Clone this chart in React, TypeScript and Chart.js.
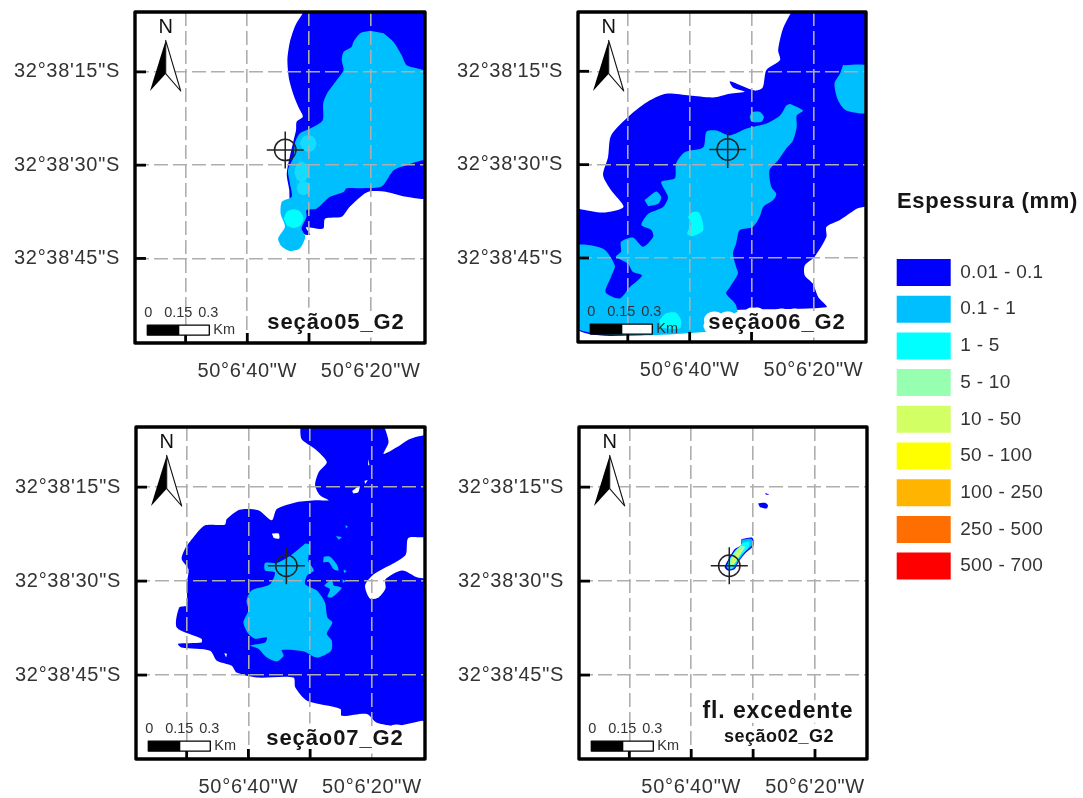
import React, { useEffect, useRef } from "react";
import { Chart, registerables } from "chart.js";

Chart.register(...registerables);

type Pt = [number, number];

// All coordinates: x = seconds of longitude (50°6'xx"W), y = seconds of latitude (32°38'yy"S)
const lonTicks = [50, 40, 30, 20];
const lonLabelled = [40, 20];
const latTicks = [15, 30, 45];
const wellSite: Pt[] = [[33.85, 27.55]];

const classLabels = ["0.01 - 0.1", "0.1 - 1", "1 - 5", "5 - 10", "10 - 50", "50 - 100", "100 - 250", "250 - 500", "500 - 700"];
const classColors = ["#0000ff", "#00bfff", "#00ffff", "#96ffb0", "#d2ff64", "#ffff00", "#ffb400", "#ff6e00", "#ff0000"];
const legendTitle = "Espessura (mm)";

// --- seção05_G2
const s05Blue: Pt[] = [[30.9,5.4],[32.2,7.5],[33.1,10.2],[33.5,13.1],[33.2,16.3],[32.4,19.0],[31.6,20.9],[31.0,22.2],[32.0,23.0],[32.1,24.4],[32.5,26.0],[33.6,31.3],[33.2,34.0],[33.1,35.6],[30.9,41.0],[29.8,41.2],[30.5,40.0],[27.7,40.2],[27.4,38.6],[24.7,38.3],[23.4,36.7],[21.2,34.7],[20.1,34.2],[17.4,34.3],[14.2,35.1],[11.0,35.1],[11.0,5.0],[30.9,5.0]];
const s05Light: Pt[] = [[20.1,8.4],[21.7,8.8],[22.8,10.2],[23.1,11.0],[24.4,11.8],[24.7,13.1],[24.4,14.7],[25.5,16.3],[27.1,18.5],[27.7,20.1],[27.8,22.8],[29.8,24.1],[31.5,24.9],[32.3,26.5],[32.5,28.7],[33.4,30.8],[33.1,32.9],[32.8,35.1],[34.4,35.9],[34.6,37.8],[33.9,39.9],[35.0,41.8],[34.4,43.1],[33.1,43.8],[31.5,43.4],[30.6,41.5],[31.2,40.2],[30.4,38.3],[30.4,37.2],[28.8,37.0],[26.6,35.1],[24.4,34.3],[23.9,33.7],[21.2,33.7],[18.2,33.4],[16.3,30.8],[14.2,30.0],[11.7,29.2],[11.0,29.2],[11.0,15.0],[12.3,14.5],[14.2,13.9],[15.0,12.3],[16.3,10.2],[17.9,8.8]];
const s05SpotA: Pt[] = [[31.5,26.5],[31.0,25.5],[30.1,25.2],[29.2,25.5],[28.8,26.5],[29.2,27.5],[30.1,27.9],[31.0,27.5]];
const s05SpotB: Pt[] = [[32.4,31.1],[32.0,29.9],[31.2,29.4],[30.4,29.9],[30.0,31.1],[30.4,32.3],[31.2,32.8],[32.0,32.3]];
const s05SpotC: Pt[] = [[32.0,33.7],[31.7,32.9],[30.9,32.6],[30.1,32.9],[29.8,33.7],[30.1,34.5],[30.9,34.8],[31.7,34.5]];
const s05SpotD: Pt[] = [[34.1,38.6],[33.6,37.5],[32.5,37.1],[31.4,37.5],[30.9,38.6],[31.4,39.7],[32.5,40.1],[33.6,39.7]];

// --- seção06_G2
const s06Blue: Pt[] = [[23.3,5.0],[24.9,8.1],[25.7,11.6],[25.4,13.2],[27.6,14.8],[28.2,17.6],[29.5,18.1],[33.5,16.6],[33.0,17.6],[31.1,18.3],[33.5,18.6],[36.2,19.2],[40,18.9],[43.8,18.6],[46.5,19.7],[49.7,22.1],[52.7,25.3],[53.2,28.8],[54.0,31.7],[52.7,34.1],[50.7,36.8],[54.0,37.7],[57.5,37.2],[58.5,37.2],[58.5,56.3],[37.3,56.3],[37.3,53.7],[17.9,52.9],[19.2,51.3],[20.1,49.1],[21.4,47.8],[21.4,46.2],[19.8,44.8],[17.9,41.6],[17.9,40.0],[15.7,38.9],[13.0,37.1],[11.0,36.3],[11.0,5.0]];
const s06Light: Pt[] = [[23.8,20.2],[21.7,21.3],[22.7,22.1],[22.7,23.9],[23.3,26.1],[24.4,27.4],[25.7,29.3],[27.1,30.9],[26.8,33.6],[26.0,34.7],[26.5,35.7],[28.1,36.8],[28.7,38.4],[29.8,40.0],[31.9,40.5],[32.5,42.7],[33.0,44.3],[32.5,46.4],[32.2,47.5],[33.5,49.7],[34.1,50.7],[32.5,52.6],[32.5,56.3],[58.5,56.3],[58.5,43.2],[54.0,43.5],[52.1,46.2],[52.7,48.0],[53.6,50.5],[51.3,51.5],[49.7,49.7],[47.7,47.8],[49.2,47.2],[50.0,45.9],[51.9,44.8],[51.1,44.0],[51.1,42.4],[49.2,41.7],[47.5,43.2],[45.9,41.6],[46.2,40.5],[47.8,39.7],[46.7,37.9],[44.3,36.8],[43.5,35.2],[44.6,32.8],[42.4,32.2],[42.2,29.8],[40.8,28.0],[37.8,27.2],[37.3,24.7],[35.7,24.5],[33.5,25.3],[30.8,24.2],[27.6,23.4],[25.4,22.1],[24.4,20.5]];
const s06LightA: Pt[] = [[30.0,21.5],[28.7,21.5],[28.0,22.3],[28.4,23.1],[30.0,23.1],[30.3,22.3]];
const s06LightB: Pt[] = [[47.3,35.7],[45.4,34.3],[44.6,35.2],[45.1,36.3],[46.7,36.7]];
const s06LightC: Pt[] = [[15.2,14.0],[11.0,14.3],[11.0,21.5],[14.7,21.3],[16.0,19.7],[16.6,17.0],[15.7,15.4]];
const s06CyanA: Pt[] = [[40.3,38.4],[39.5,37.6],[38.4,37.8],[37.8,40.5],[39.5,41.5],[40.4,41.1],[39.7,39.5]];
const s06CyanB: Pt[] = [[44.9,55.0],[43.8,53.9],[42.2,53.8],[41.4,55.0],[41.6,56.3],[44.6,56.3]];

// --- seção07_G2
const s07Blue: Pt[] = [[31.6,5.0],[31.4,7.3],[29.2,8.9],[27.3,11.0],[28.6,12.6],[29.2,14.7],[28.4,16.3],[27.0,17.1],[28.9,17.1],[32.2,17.4],[35.4,18.5],[36.2,20.3],[38.4,18.7],[41.4,18.6],[43.5,20.1],[43.8,21.0],[47.0,21.1],[48.9,23.0],[50.3,24.9],[50.8,26.5],[49.7,28.1],[50.0,30.5],[50.0,33.9],[51.2,34.2],[51.6,37.4],[47.6,39.2],[47.6,39.8],[51.4,40.0],[50.8,40.6],[46.2,41.1],[45.1,42.7],[42.7,43.5],[41.9,44.6],[38.6,45.4],[32.7,45.4],[32.4,47.0],[30.5,49.1],[25.1,50.4],[24.9,51.5],[20.8,51.2],[19.2,52.6],[15.9,53.1],[11.9,52.3],[11.0,52.3],[11.0,29.9],[12.7,29.4],[15.1,28.3],[17.8,29.7],[17.8,31.2],[18.9,32.6],[20.3,32.8],[21.1,30.7],[19.7,28.9],[14.6,25.9],[14.1,23.1],[11.0,22.7],[11.0,7.0],[13.8,7.3],[15.9,8.6],[18.1,9.7],[17.3,7.8],[18.1,5.0]];
const s07Light: Pt[] = [[30.8,24.0],[30.0,24.2],[30.3,26.7],[29.4,28.3],[30.5,29.1],[30.8,30.5],[28.9,31.5],[27.6,33.4],[27.2,35.8],[26.4,36.6],[27.3,38.4],[26.5,39.5],[26.6,41.1],[28.9,42.2],[31.1,41.2],[34.6,41.0],[34.3,41.9],[35.4,42.8],[37.0,42.2],[38.4,40.8],[39.7,40.3],[37.3,39.8],[37.0,39.0],[38.9,39.2],[40,38.4],[40.8,36.6],[40,34.7],[40.3,33.1],[39.5,31.5],[36.5,30.5],[35.7,28.6],[37.3,28.3],[37.3,27.1],[35.4,27.1],[33.2,25.9],[31.9,24.9]];
const s07IsletA: Pt[] = [[27.8,26.1],[26.8,26.1],[25.7,27.3],[25.4,28.3],[26.2,28.1],[27.0,27.0],[27.9,27.0]];
const s07IsletB: Pt[] = [[26.5,29.7],[27.7,30.7],[26.8,31.3],[27.2,32.5],[26.5,32.6],[24.9,31.1],[26.2,30.7]];
const s07IsletC: Pt[] = [[25.8,22.8],[24.9,23.0],[25.4,23.4]];
const s07IsletD: Pt[] = [[24.3,21.1],[23.9,21.3],[24.2,21.6]];
const s07IsletE: Pt[] = [[24.6,28.2],[24.1,28.4],[24.5,28.7]];
const s07IsletF: Pt[] = [[24.8,29.7],[24.3,30.0],[24.7,30.3]];
const s07HoleA: Pt[] = [[36.2,22.4],[35.1,22.4],[35.0,23.2],[35.9,23.1]];
const s07HoleB: Pt[] = [[23.2,15.6],[22.0,14.8],[22.2,15.8],[23.0,16.0]];
const s07HoleC: Pt[] = [[21.2,14.0],[20.7,13.9],[21.1,14.5]];
const s07HoleD: Pt[] = [[20.6,10.5],[20.4,11.5],[20.6,11.5]];
const s07HoleE: Pt[] = [[43.9,41.5],[43.5,41.6],[43.6,42.2]];

// --- fl. excedente / seção02_G2
const s02Blue: Pt[] = [[31.9,23.3],[30.1,23.1],[29.9,24.3],[31.1,25.4],[32.2,26.7],[33.0,28.1],[34.1,28.3],[34.6,27.8],[33.8,26.2],[33.0,24.9],[31.9,24.3]];
const s02Light: Pt[] = [[31.8,23.4],[30.2,23.3],[30.1,24.2],[31.3,25.3],[32.3,26.6],[33.1,27.9],[33.9,28.1],[34.3,27.7],[33.6,26.3],[32.8,25.0],[31.8,24.4]];
const s02Cyan: Pt[] = [[31.7,23.9],[30.6,23.7],[30.8,24.7],[31.9,25.8],[32.8,27.1],[33.4,28.0],[34.0,27.9],[34.0,26.9],[33.3,25.7],[32.5,24.8]];
const s02Green: Pt[] = [[32.0,24.4],[31.3,24.5],[32.0,25.7],[32.8,26.9],[33.4,27.7],[33.9,27.4],[33.5,26.2],[32.8,25.1]];
const s02Lime: Pt[] = [[32.3,25.0],[31.9,25.2],[32.5,26.3],[33.1,27.2],[33.6,27.2],[33.3,26.2]];
const s02SpotA: Pt[] = [[29.2,17.6],[28.1,17.5],[27.6,17.9],[27.8,18.4],[28.9,18.2]];
const s02SpotB: Pt[] = [[28.1,15.9],[27.4,16.2],[27.9,16.2]];

const [BLUE, LIGHT, CYAN, GREEN, LIME] = classColors;
const WHITE = "#ffffff";
const SOFT = "#14dcff";

type Panel = {
  left: number; top: number; right: number; bottom: number;
  lon: [number, number]; lat: [number, number];
  innerLonTicks: number;
  layers: [Pt[], string][];
  labels: { text: string; size: number; cx: number; cy: number }[];
};

const panels: Panel[] = [
  {
    left: 135, top: 11.7, right: 425, bottom: 342.7, lon: [11.2, 58.2], lat: [5.37, 58.6], innerLonTicks: 3,
    layers: [[s05Blue, BLUE], [s05Light, LIGHT], [s05SpotA, SOFT], [s05SpotB, SOFT], [s05SpotC, SOFT], [s05SpotD, CYAN]],
    labels: [{ text: "seção05_G2", size: 22, cx: 89, cy: 20 }],
  },
  {
    left: 578.3, top: 11.7, right: 866.7, bottom: 341.7, lon: [11.5, 58.05], lat: [5.47, 58.5], innerLonTicks: 3,
    layers: [[s06Blue, BLUE], [s06Light, LIGHT], [s06LightA, LIGHT], [s06LightB, LIGHT], [s06LightC, LIGHT], [s06CyanA, CYAN], [s06CyanB, CYAN]],
    labels: [{ text: "seção06_G2", size: 22, cx: 89, cy: 19 }],
  },
  {
    left: 136, top: 426.7, right: 425, bottom: 758.3, lon: [11.4, 58.2], lat: [5.4, 58.4], innerLonTicks: 3,
    layers: [[s07Blue, BLUE], [s07Light, LIGHT], [s07IsletA, LIGHT], [s07IsletB, LIGHT], [s07IsletC, LIGHT], [s07IsletD, LIGHT], [s07IsletE, LIGHT], [s07IsletF, LIGHT], [s07HoleA, WHITE], [s07HoleB, WHITE], [s07HoleC, WHITE], [s07HoleD, WHITE], [s07HoleE, WHITE]],
    labels: [{ text: "seção07_G2", size: 22, cx: 90, cy: 20 }],
  },
  {
    left: 579.3, top: 426.7, right: 867.7, bottom: 758.3, lon: [11.6, 58.13], lat: [5.4, 58.4], innerLonTicks: 4,
    layers: [[s02SpotA, BLUE], [s02SpotB, BLUE], [s02Blue, BLUE], [s02Light, LIGHT], [s02Cyan, CYAN], [s02Green, GREEN], [s02Lime, LIME]],
    labels: [
      { text: "fl. excedente", size: 23, cx: 89, cy: 47 },
      { text: "seção02_G2", size: 18, cx: 88, cy: 21.6 },
    ],
  },
];

const FONT = "'Liberation Sans', Arial, sans-serif";
const PAD_L = 135, PAD_T = 11, PAD_R = 15, PAD_B = 50;

const zeroAxisPadding = (s: any) => {
  s.paddingTop = 0; s.paddingBottom = 0; s.paddingLeft = 0; s.paddingRight = 0;
};

const mapDecorPlugin = (panel: Panel) => ({
  id: "mapDecor",
  beforeDraw(chart: any) {
    chart.ctx.letterSpacing = "0.7px";
    chart.ctx.fillStyle = "#fff";
    chart.ctx.fillRect(chart.chartArea.left, chart.chartArea.top, chart.chartArea.width, chart.chartArea.height);
  },
  afterDraw(chart: any) {
    const { ctx, chartArea: a, scales } = chart;
    ctx.save();
    ctx.letterSpacing = "0px";

    // panel captions with white halo
    ctx.textAlign = "center";
    ctx.textBaseline = "middle";
    ctx.lineJoin = "round";
    for (const l of panel.labels) {
      ctx.letterSpacing = l.size >= 22 ? "0.9px" : "0.5px";
      ctx.font = `bold ${l.size}px ${FONT}`;
      ctx.strokeStyle = "#fff";
      ctx.lineWidth = 11;
      ctx.strokeText(l.text, a.right - l.cx, a.bottom - l.cy);
      ctx.fillStyle = "#151515";
      ctx.fillText(l.text, a.right - l.cx, a.bottom - l.cy);
    }
    ctx.letterSpacing = "0px";

    // inner tick marks
    ctx.strokeStyle = "#000";
    ctx.lineWidth = 2.8;
    lonTicks.slice(0, panel.innerLonTicks).forEach((v) => {
      const x = scales.x.getPixelForValue(v);
      ctx.beginPath(); ctx.moveTo(x, a.bottom); ctx.lineTo(x, a.bottom - 10); ctx.stroke();
    });
    latTicks.forEach((v) => {
      const y = scales.y.getPixelForValue(v);
      ctx.beginPath(); ctx.moveTo(a.left, y); ctx.lineTo(a.left + 11, y); ctx.stroke();
    });

    // frame
    ctx.lineWidth = 3.4;
    ctx.strokeRect(a.left, a.top, a.width, a.height);

    // north arrow
    ctx.fillStyle = "#111";
    ctx.font = `20px ${FONT}`;
    ctx.fillText("N", a.left + 30.7, a.top + 15);
    const ax = a.left + 30.7, ay = a.top;
    ctx.beginPath();
    ctx.moveTo(ax, ay + 28.3); ctx.lineTo(ax - 15.7, ay + 79); ctx.lineTo(ax, ay + 61.7); ctx.closePath();
    ctx.fillStyle = "#000"; ctx.fill();
    ctx.beginPath();
    ctx.moveTo(ax, ay + 28.3); ctx.lineTo(ax + 15, ay + 79); ctx.lineTo(ax, ay + 61.7); ctx.closePath();
    ctx.fillStyle = "#fff"; ctx.fill();
    ctx.strokeStyle = "#111"; ctx.lineWidth = 1.1; ctx.stroke();

    // scale bar
    const bx = a.left + 12.3, by = a.bottom - 17.9;
    ctx.fillStyle = "#fff";
    ctx.fillRect(bx, by, 62, 10);
    ctx.fillStyle = "#000";
    ctx.fillRect(bx, by, 32, 10);
    ctx.strokeStyle = "#000"; ctx.lineWidth = 1.3;
    ctx.strokeRect(bx, by, 62, 10);
    ctx.fillStyle = "#333";
    ctx.font = `14.5px ${FONT}`;
    ctx.letterSpacing = "0px";
    ctx.fillText("0", a.left + 13.3, a.bottom - 30);
    ctx.fillText("0.15", a.left + 43.3, a.bottom - 30);
    ctx.fillText("0.3", a.left + 73.3, a.bottom - 30);
    ctx.textAlign = "left";
    ctx.fillText("Km", a.left + 78.3, a.bottom - 12.7);
    ctx.restore();
  },
});

function makePanel(canvas: HTMLCanvasElement, panel: Panel) {
  const polygons = panel.layers.map(([pts, color], i) => ({
    data: pts.map(([x, y]) => ({ x, y })),
    showLine: true,
    fill: "shape",
    tension: 0.25,
    backgroundColor: color,
    borderColor: color,
    borderWidth: 0,
    pointRadius: 0,
    order: -i,
  }));
  const site = wellSite.map(([x, y]) => ({ x, y }));
  const markers = [
    { data: site, pointStyle: "circle", pointRadius: 10.7, pointBorderWidth: 1.5, pointBorderColor: "#222", pointBackgroundColor: "rgba(0,0,0,0)", showLine: false, order: -200 },
    { data: site, pointStyle: "cross", pointRadius: 18.5, pointBorderWidth: 1.5, pointBorderColor: "#222", pointBackgroundColor: "rgba(0,0,0,0)", showLine: false, order: -201 },
  ];
  return new Chart(canvas, {
    type: "scatter",
    data: { datasets: [...polygons, ...markers] as any },
    plugins: [mapDecorPlugin(panel)],
    options: {
      animation: false,
      responsive: false,
      events: [],
      layout: { autoPadding: false, padding: { left: 0, top: PAD_T, right: PAD_R, bottom: 0 } },
      plugins: { legend: { display: false }, tooltip: { enabled: false }, title: { display: false } },
      scales: {
        x: {
          type: "linear", reverse: true, min: panel.lon[0], max: panel.lon[1],
          afterBuildTicks: (s: any) => { s.ticks = lonTicks.map((value) => ({ value })); },
          afterFit: (s: any) => { s.height = PAD_B; zeroAxisPadding(s); },
          ticks: {
            autoSkip: false, maxRotation: 0, padding: 16.5, color: "#333",
            font: { family: FONT, size: 20 },
            callback: (v: any) => (lonLabelled.includes(v) ? `50°6'${v}"W` : ""),
          },
          grid: { z: 1, color: "#aeaeae", lineWidth: 1.6, drawTicks: false, tickLength: 0 },
          border: { display: false, dash: [14, 5] },
        },
        y: {
          type: "linear", reverse: true, min: panel.lat[0], max: panel.lat[1],
          afterBuildTicks: (s: any) => { s.ticks = latTicks.map((value) => ({ value })); },
          afterFit: (s: any) => { s.width = PAD_L; zeroAxisPadding(s); },
          ticks: {
            autoSkip: false, padding: 15, color: "#333",
            font: { family: FONT, size: 20 },
            callback: (v: any) => `32°38'${v}"S`,
          },
          grid: { z: 1, color: "#aeaeae", lineWidth: 1.6, drawTicks: false, tickLength: 0 },
          border: { display: false, dash: [14, 5] },
        },
      },
    } as any,
  });
}

function makeLegend(canvas: HTMLCanvasElement) {
  const titlePlugin = {
    id: "legendHeading",
    afterDraw(chart: any) {
      const ctx = chart.ctx;
      ctx.save();
      ctx.font = `bold 22px ${FONT}`;
      ctx.letterSpacing = "0.7px";
      ctx.fillStyle = "#151515";
      ctx.textAlign = "left";
      ctx.textBaseline = "middle";
      ctx.fillText(legendTitle, 10, 22);
      ctx.restore();
    },
  };
  return new Chart(canvas, {
    type: "scatter",
    data: {
      datasets: classLabels.map((label, i) => ({
        label, data: [], backgroundColor: classColors[i], borderColor: classColors[i], borderWidth: 0,
      })),
    },
    plugins: [titlePlugin, {
      id: "legendSpacing",
      beforeDraw(chart: any) { chart.ctx.letterSpacing = "0.3px"; },
    }],
    options: {
      animation: false,
      responsive: false,
      events: [],
      layout: { autoPadding: false, padding: { top: 69.3 } },
      scales: { x: { display: false }, y: { display: false } },
      plugins: {
        tooltip: { enabled: false },
        legend: {
          position: "left", align: "start",
          labels: {
            boxWidth: 54, boxHeight: 27, padding: 9.7, color: "#333",
            font: { family: FONT, size: 19 },
          },
        },
      },
    } as any,
  });
}

export default function App() {
  const panelRefs = useRef<(HTMLCanvasElement | null)[]>([]);
  const legendRef = useRef<HTMLCanvasElement | null>(null);

  useEffect(() => {
    const charts = panels.map((p, i) => makePanel(panelRefs.current[i] as HTMLCanvasElement, p));
    charts.push(makeLegend(legendRef.current as HTMLCanvasElement));
    return () => charts.forEach((c) => c.destroy());
  }, []);

  const soft = "blur(0.55px)";
  return (
    <div style={{ position: "absolute", left: 0, top: 0, width: 1083, height: 798, overflow: "hidden", background: "#fff" }}>
      {panels.map((p, i) => (
        <canvas
          key={i}
          ref={(el) => { panelRefs.current[i] = el; }}
          width={Math.round(p.right - p.left + PAD_L + PAD_R)}
          height={Math.round(p.bottom - p.top + PAD_T + PAD_B)}
          style={{ position: "absolute", left: p.left - PAD_L, top: p.top - PAD_T, filter: soft }}
        />
      ))}
      <canvas ref={legendRef} width={420} height={420} style={{ position: "absolute", left: 887, top: 180, filter: soft }} />
    </div>
  );
}
